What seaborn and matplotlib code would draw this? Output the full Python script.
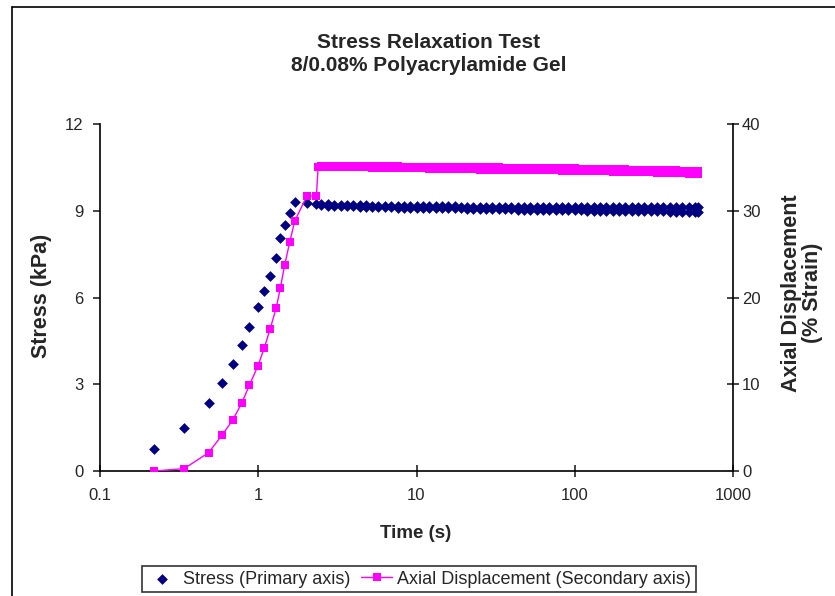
import numpy as np
import pandas as pd
import matplotlib
matplotlib.use("Agg")
import matplotlib.pyplot as plt
import seaborn as sns
from matplotlib.lines import Line2D
from matplotlib.ticker import NullLocator

# loading ramp
ramp_time = [0.22, 0.34, 0.485, 0.59, 0.69, 0.785, 0.88, 0.995, 1.09, 1.19,
             1.30, 1.38, 1.47, 1.58, 1.70, 2.03, 2.33]
ramp_stress = [0.77, 1.50, 2.36, 3.06, 3.69, 4.36, 4.97, 5.67, 6.22, 6.76,
               7.38, 8.05, 8.52, 8.92, 9.30, 9.26, 9.23]
ramp_strain = [0.0, 0.27, 2.11, 4.12, 5.88, 7.80, 9.91, 12.10, 14.14, 16.40,
               18.82, 21.13, 23.78, 26.36, 28.82, 31.70, 31.70]

# step to the hold strain
step_time = [2.39]
step_strain = [35.05]

# hold phase: upper and lower edge of the noisy band
hold_time = [2.51, 2.75, 3.02, 3.31, 3.63, 3.98, 4.37, 4.79, 5.25, 5.75,
             6.31, 6.92, 7.59, 8.32, 9.12, 10.0, 11.0, 12.0, 13.2, 14.5,
             15.8, 17.4, 19.1, 20.9, 22.9, 25.1, 27.5, 30.2, 33.1, 36.3,
             39.8, 43.7, 47.9, 52.5, 57.5, 63.1, 69.2, 75.9, 83.2, 91.2,
             100, 110, 120, 132, 145, 158, 174, 191, 209, 229,
             251, 275, 302, 331, 363, 398, 437, 479, 525, 575, 600]
hold_stress_hi = [9.23, 9.22, 9.21, 9.21, 9.20, 9.20, 9.19, 9.19, 9.18, 9.18,
                  9.17, 9.17, 9.17, 9.16, 9.16, 9.16, 9.16, 9.15, 9.15, 9.15,
                  9.15, 9.15, 9.14, 9.14, 9.14, 9.14, 9.14, 9.13, 9.13, 9.13,
                  9.13, 9.13, 9.13, 9.13, 9.13, 9.12, 9.12, 9.12, 9.12, 9.12,
                  9.12, 9.12, 9.12, 9.12, 9.12, 9.12, 9.12, 9.12, 9.12, 9.12,
                  9.12, 9.12, 9.12, 9.12, 9.12, 9.12, 9.12, 9.12, 9.12, 9.12, 9.12]
hold_stress_lo = [9.19, 9.18, 9.17, 9.16, 9.15, 9.15, 9.14, 9.14, 9.13, 9.13,
                  9.12, 9.12, 9.11, 9.11, 9.11, 9.10, 9.10, 9.10, 9.09, 9.09,
                  9.09, 9.08, 9.08, 9.07, 9.07, 9.07, 9.06, 9.06, 9.05, 9.05,
                  9.05, 9.04, 9.04, 9.03, 9.03, 9.03, 9.02, 9.02, 9.02, 9.01,
                  9.01, 9.01, 9.00, 9.00, 9.00, 9.00, 8.99, 8.99, 8.99, 8.99,
                  8.98, 8.98, 8.98, 8.98, 8.98, 8.97, 8.97, 8.97, 8.97, 8.97, 8.97]
hold_strain_hi = [35.20, 35.20, 35.20, 35.20, 35.20, 35.20, 35.20, 35.15, 35.15, 35.15,
                  35.15, 35.15, 35.15, 35.10, 35.10, 35.10, 35.10, 35.10, 35.10, 35.05,
                  35.05, 35.05, 35.05, 35.05, 35.00, 35.00, 35.00, 35.00, 35.00, 34.95,
                  34.95, 34.95, 34.95, 34.95, 34.90, 34.90, 34.90, 34.90, 34.90, 34.90,
                  34.90, 34.85, 34.85, 34.85, 34.85, 34.80, 34.80, 34.80, 34.80, 34.75,
                  34.75, 34.75, 34.75, 34.70, 34.70, 34.70, 34.65, 34.60, 34.55, 34.55, 34.55]
hold_strain_lo = [35.05, 35.05, 35.05, 35.00, 35.00, 35.00, 35.00, 35.00, 34.95, 34.95,
                  34.95, 34.95, 34.95, 34.90, 34.90, 34.90, 34.90, 34.85, 34.85, 34.85,
                  34.85, 34.80, 34.80, 34.80, 34.80, 34.75, 34.75, 34.75, 34.75, 34.70,
                  34.70, 34.70, 34.70, 34.65, 34.65, 34.65, 34.65, 34.65, 34.60, 34.60,
                  34.60, 34.60, 34.55, 34.55, 34.55, 34.55, 34.50, 34.50, 34.50, 34.50,
                  34.45, 34.45, 34.45, 34.40, 34.40, 34.40, 34.35, 34.30, 34.25, 34.25, 34.25]

x_ticks = [0.1, 1, 10, 100, 1000]
x_ticklabels = ["0.1", "1", "10", "100", "1000"]

# band edges interleaved so the hold reads as one dense band
hold_t2 = [t for t in hold_time for _ in (0, 1)]
hold_s2 = [v for pair in zip(hold_stress_hi, hold_stress_lo) for v in pair]
hold_e2 = [v for pair in zip(hold_strain_hi, hold_strain_lo) for v in pair]

stress_df = pd.DataFrame({"time": ramp_time + hold_t2,
                          "stress": ramp_stress + hold_s2})
strain_df = pd.DataFrame({"time": ramp_time + step_time + hold_t2,
                          "strain": ramp_strain + step_strain + hold_e2})

sns.set_style("white")
plt.rcParams['font.family'] = ['Liberation Sans', 'DejaVu Sans']

fig = plt.figure(figsize=(8.35, 5.96), dpi=100)
ax = fig.add_axes([100/835, 1 - 471/596, 633/835, 347/596])
ax2 = ax.twinx()

navy = "#000080"
pink = "#FF00FF"

sns.scatterplot(data=stress_df, x="time", y="stress", ax=ax, marker="D",
                color=navy, s=30, linewidth=0, legend=False,
                label="Stress (Primary axis)")
sns.lineplot(data=strain_df, x="time", y="strain", ax=ax2, color=pink,
             marker="s", markersize=5.5, markeredgewidth=0, linewidth=1,
             estimator=None, sort=False, legend=False,
             label="Axial Displacement (Secondary axis)")

ax.set_xscale("log")
ax.set_xlim(0.1, 1000)
ax.set_ylim(0, 12)
ax.set_yticks([0, 3, 6, 9, 12])
ax.set_xticks(x_ticks)
ax.set_xticklabels(x_ticklabels)
ax.xaxis.set_minor_locator(NullLocator())
ax2.set_ylim(0, 40)
ax2.set_yticks([0, 10, 20, 30, 40])

for a in (ax, ax2):
    for s in a.spines.values():
        s.set_visible(False)
        s.set_linewidth(1.2)
        s.set_color("black")
ax.spines["left"].set_visible(True)
ax.spines["bottom"].set_visible(True)
ax2.spines["right"].set_visible(True)

ax.tick_params(axis="y", direction="out", length=5, width=1.2, pad=7,
               labelsize=12, left=True)
ax.tick_params(axis="x", direction="inout", length=9, width=1.2, pad=8,
               labelsize=12, bottom=True)
ax2.tick_params(axis="y", direction="inout", length=9, width=1.2, pad=2,
                labelsize=12, right=True)

ax.set_xlabel("")
ax.set_ylabel("")
ax2.set_ylabel("")

fig.text(429/835, 1 - 54/596, "Stress Relaxation Test\n8/0.08% Polyacrylamide Gel",
         ha="center", va="center", fontsize=15, fontweight="bold",
         linespacing=1.3)
fig.text(42/835, 1 - 296/596, "Stress (kPa)", rotation=90, ha="center",
         va="center", fontsize=15.5, fontweight="bold")
fig.text(416/835, 1 - 534/596, "Time (s)", ha="center", va="center",
         fontsize=13.5, fontweight="bold")
fig.text(802/835, 1 - 293/596, "Axial Displacement\n(% Strain)", rotation=90,
         ha="center", va="center", fontsize=15.5, fontweight="bold",
         multialignment="center", linespacing=0.95)

h1, l1 = ax.get_legend_handles_labels()
h2, l2 = ax2.get_legend_handles_labels()
leg = fig.legend(h1 + h2, l1 + l2, loc="center", ncol=2,
                 bbox_to_anchor=(419/835, 1 - 579/596), fontsize=13,
                 frameon=True, fancybox=False, borderpad=0.25,
                 handletextpad=0.3, columnspacing=0.6, handlelength=1.7)
leg.get_frame().set_edgecolor("black")
leg.get_frame().set_linewidth(1.2)

# outer chart border (cropped at right and bottom)
fig.add_artist(Line2D([12/835, 12/835], [0, 1 - 7/596], color="black",
                      linewidth=1.2, transform=fig.transFigure))
fig.add_artist(Line2D([12/835, 1], [1 - 7/596, 1 - 7/596], color="black",
                      linewidth=1.2, transform=fig.transFigure))

fig.savefig("out.png", dpi=100)
